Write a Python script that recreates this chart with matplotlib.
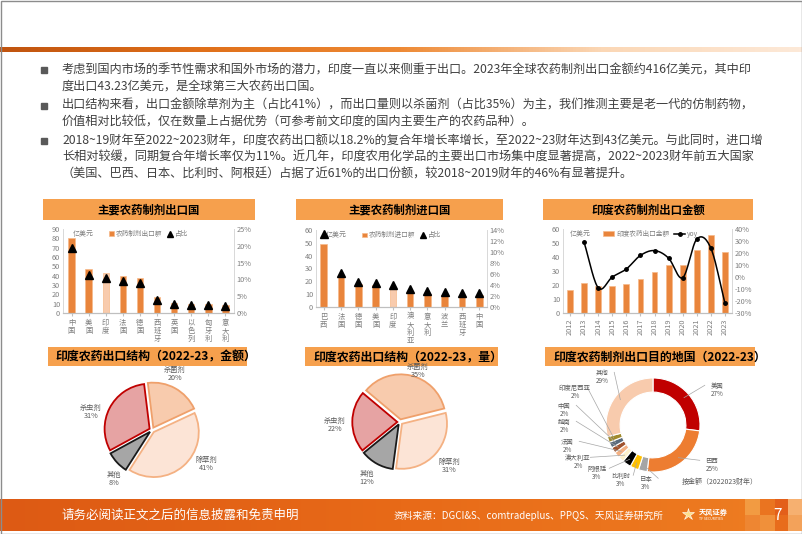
import numpy as np
import matplotlib.pyplot as plt
from matplotlib.patches import Rectangle, Patch
from matplotlib.lines import Line2D
from matplotlib.colors import LinearSegmentedColormap

plt.rcParams['font.family'] = ['Noto Sans CJK SC', 'DejaVu Sans']

W, H = 802, 534

# ---------------- data ----------------
exp_countries = ['中国', '美国', '印度', '法国', '德国', '西班牙', '英国', '以色列', '匈牙利', '意大利']
exp_value = [80.5, 47.5, 43.0, 39.5, 37.5, 17.2, 10.6, 9.4, 9.4, 8.2]
exp_share = [19.3, 11.4, 10.4, 9.4, 8.9, 4.0, 2.8, 2.5, 2.5, 2.2]

imp_countries = ['巴西', '法国', '德国', '美国', '印度', '澳大利亚', '意大利', '波兰', '西班牙', '中国']
imp_value = [49.0, 23.5, 18.3, 17.5, 14.9, 11.7, 10.4, 9.7, 9.1, 9.1]
imp_share = [13.2, 6.1, 4.5, 4.4, 4.0, 3.2, 2.9, 2.8, 2.6, 2.6]

years = ['2012', '2013', '2014', '2015', '2016', '2017', '2018', '2019', '2020', '2021', '2022', '2023']
india_exp = [16.3, 21.1, 19.3, 19.4, 20.4, 24.2, 29.5, 34.3, 34.3, 45.1, 55.4, 43.4]
india_yoy = [np.nan, 28.8, -9.0, 0.0, 6.7, 18.0, 22.0, 15.7, -0.6, 31.6, 24.0, -22.0]

pie_types = ['杀菌剂', '除草剂', '其他', '杀虫剂']
value_share = [20, 41, 8, 31]
volume_share = [35, 31, 12, 22]

dest_countries = ['美国', '巴西', '日本', '比利时', '阿根廷', '澳大利亚', '法国', '越南', '中国', '印度尼西亚', '其他']
dest_share = [27, 25, 3, 3, 3, 2, 2, 2, 2, 2, 29]

bullets = [
    ["考虑到国内市场的季节性需求和国外市场的潜力，印度一直以来侧重于出口。2023年全球农药制剂出口金额约416亿美元，其中印",
     "度出口43.23亿美元，是全球第三大农药出口国。"],
    ["出口结构来看，出口金额除草剂为主（占比41%），而出口量则以杀菌剂（占比35%）为主，我们推测主要是老一代的仿制药物，",
     "价值相对比较低，仅在数量上占据优势（可参考前文印度的国内主要生产的农药品种）。"],
    ["2018~19财年至2022~2023财年，印度农药出口额以18.2%的复合年增长率增长，至2022~23财年达到43亿美元。与此同时，进口增",
     "长相对较缓，同期复合年增长率仅为11%。近几年，印度农用化学品的主要出口市场集中度显著提高，2022~2023财年前五大国家",
     "（美国、巴西、日本、比利时、阿根廷）占据了近61%的出口份额，较2018~2019财年的46%有显著提升。"],
]

# ---------------- styles ----------------
BANNER = '#F6A04D'
BAR = '#E9853C'
BAR_EDGE = '#F6B98A'
LIGHT = '#F8CBAD'
TICK = '#7F7F7F'
TEXT = '#404040'


def frac(x0, y0, x1, y1):
    """pixel box (top-left origin) -> figure fraction rect"""
    return [x0 / W, 1 - y1 / H, (x1 - x0) / W, (y1 - y0) / H]


def smooth(xs, ys, n=16):
    """Catmull-Rom curve through the points (Excel-like smoothed line)"""
    P = np.column_stack([np.asarray(xs, float), np.asarray(ys, float)])
    P = np.vstack([2 * P[0] - P[1], P, 2 * P[-1] - P[-2]])
    t = np.linspace(0, 1, n, endpoint=False)[:, None]
    out = []
    for i in range(1, len(P) - 2):
        p0, p1, p2, p3 = P[i - 1], P[i], P[i + 1], P[i + 2]
        out.append(0.5 * (2 * p1 + (-p0 + p2) * t + (2 * p0 - 5 * p1 + 4 * p2 - p3) * t ** 2
                          + (-p0 + 3 * p1 - 3 * p2 + p3) * t ** 3))
    out.append(P[-2][None, :])
    return np.vstack(out)


fig = plt.figure(figsize=(W / 100, H / 100), dpi=100)

# background axis in pixel coordinates
bg = fig.add_axes([0, 0, 1, 1])
bg.set_xlim(0, W)
bg.set_ylim(H, 0)
bg.axis('off')

# top gradient rule
grad = np.linspace(0, 1, 256)[None, :]
top_cmap = LinearSegmentedColormap.from_list('top', ['#C0540F', '#E0701A', '#EE8A35', '#FBD7B5', '#FDE9D8'])
bg.imshow(grad, cmap=top_cmap, extent=(0, W, 52, 47), aspect='auto')

# slide border
bg.add_patch(Rectangle((0.5, 0.5), W - 1, H - 1, fill=False, ec='#8C8C8C', lw=1.0))

# bullets
y = 70
for para in bullets:
    bg.plot(44, y, marker='s', ms=5, color='#595959')
    for line in para:
        bg.text(62, y, line, fontsize=8.75, color=TEXT, va='center', ha='left')
        y += 16.5
    y += 2.5


def banner(x0, y0, x1, y1, text, center=True, size=8.2):
    bg.add_patch(Rectangle((x0, y0), x1 - x0, y1 - y0, color=BANNER, lw=0))
    if center:
        bg.text((x0 + x1) / 2, (y0 + y1) / 2 + 0.5, text, fontsize=size, fontweight='bold',
                ha='center', va='center', color='black')
    else:
        bg.text(x0 + 8, (y0 + y1) / 2 + 0.5, text, fontsize=size, fontweight='bold',
                ha='left', va='center', color='black')


banner(43, 199, 255, 220, '主要农药制剂出口国')
banner(296, 199, 503, 220, '主要农药制剂进口国')
banner(543, 199, 753, 220, '印度农药制剂出口金额')
banner(48, 347, 247, 366, '印度农药出口结构（2022-23，金额）', center=False, size=8.6)
banner(305, 347, 498, 366, '印度农药出口结构（2022-23，量）', center=False, size=8.6)
banner(545, 347, 755, 366, '印度农药制剂出口目的地国（2022-23）', center=False, size=8.6)


def style_axes(ax, ax2):
    for a in (ax, ax2):
        a.spines['top'].set_visible(False)
        a.spines['left'].set_color('#D9D9D9')
        a.spines['right'].set_color('#D9D9D9')
        a.spines['bottom'].set_color('#BFBFBF')
        a.spines['left'].set_linewidth(0.6)
        a.spines['right'].set_linewidth(0.6)
        a.tick_params(labelsize=5.3, colors=TICK, length=0, pad=2)
    ax.tick_params(axis='x', length=2, color='#BFBFBF')


def combo_chart(rect, cats, vals, shares, ymax, ystep, rmax, rstep, legend_name, xlim):
    ax = fig.add_axes(frac(*rect))
    ax.patch.set_alpha(0)
    x = np.arange(len(cats))
    colors = [LIGHT if c == '印度' else BAR for c in cats]
    ax.bar(x, vals, width=0.38, color=colors, edgecolor=BAR_EDGE, lw=0.5)
    ax.set_ylim(0, ymax)
    ax.set_yticks(np.arange(0, ymax + 0.1, ystep))
    ax.set_xlim(*xlim)
    ax.set_xticks(x)
    ax.set_xticklabels(['\n'.join(c) for c in cats], fontsize=5.3, linespacing=1.05)
    ax2 = ax.twinx()
    ax2.plot(x, shares, linestyle='none', marker='^', ms=5.5, color='black')
    ax2.set_ylim(0, rmax)
    ax2.set_yticks(np.arange(0, rmax + 0.1, rstep))
    ax2.set_yticklabels([f'{v:.0f}%' for v in np.arange(0, rmax + 0.1, rstep)])
    style_axes(ax, ax2)
    ax.text(0.06, 0.985, '亿美元', transform=ax.transAxes, fontsize=5, color=TICK, va='top')
    handles = [Patch(facecolor=BAR, edgecolor=BAR_EDGE, lw=0.5),
               Line2D([], [], linestyle='none', marker='^', ms=4, color='black')]
    ax2.legend(handles, [legend_name, '占比'], ncol=2, loc='upper center',
               bbox_to_anchor=(0.5, 1.06), frameon=False, fontsize=4.8, handlelength=0.8,
               handletextpad=0.3, columnspacing=0.8, labelcolor=TICK)
    return ax, ax2


combo_chart((63, 229, 234, 313), exp_countries, exp_value, exp_share, 90, 10, 25, 5,
            '农药制剂出口额', (-0.5, 9.5))
combo_chart((316, 230, 487, 307), imp_countries, imp_value, imp_share, 60, 10, 14, 2,
            '农药制剂进口额', (-0.45, 9.45))

# India export amount + yoy
ax = fig.add_axes(frac(563, 229, 732, 313))
ax.patch.set_alpha(0)
xi = np.arange(len(years))
ax.bar(xi, india_exp, width=0.42, color=BAR, edgecolor=BAR_EDGE, lw=0.5)
ax.set_ylim(0, 60)
ax.set_yticks(np.arange(0, 61, 10))
ax.set_xlim(-0.5, len(years) - 0.5)
ax.set_xticks(xi)
ax.set_xticklabels(years, rotation=90, fontsize=5)
ax2 = ax.twinx()
yoy = np.array(india_yoy)
ok = ~np.isnan(yoy)
curve = smooth(xi[ok], yoy[ok])
ax2.plot(curve[:, 0], curve[:, 1], color='black', lw=1.1)
ax2.plot(xi[ok], yoy[ok], linestyle='none', marker='o', ms=2.5, color='black')
ax2.set_ylim(-30, 40)
ax2.set_yticks(np.arange(-30, 41, 10))
ax2.set_yticklabels([f'{v}%' for v in range(-30, 41, 10)])
style_axes(ax, ax2)
ax.text(0.04, 0.985, '亿美元', transform=ax.transAxes, fontsize=5, color=TICK, va='top')
ax2.legend([Patch(facecolor=BAR, edgecolor=BAR_EDGE, lw=0.5),
            Line2D([], [], color='black', marker='o', ms=2.5, lw=1.1)],
           ['印度农药出口金额', 'yoy'], ncol=2, loc='upper center', bbox_to_anchor=(0.52, 1.06),
           frameon=False, fontsize=4.8, handlelength=1.6, handletextpad=0.3,
           columnspacing=0.8, labelcolor=TICK)

# ---------------- pies ----------------
pie_face = ['#F8CBAD', '#FCE4D6', '#A6A6A6', '#E6A3A3']
pie_edge = ['#EFA06B', '#F4B183', '#1A1A1A', '#C00000']


def pie_axes(cx, cy, s):
    a = fig.add_axes(frac(cx - s, cy - s, cx + s, cy + s))
    a.patch.set_alpha(0)
    return a


def draw_pie(cx, cy, shares, start, label_px):
    r, s = 45, 62
    a = pie_axes(cx, cy, s)
    wedges, _ = a.pie(shares, startangle=start, counterclock=False, colors=pie_face,
                      explode=[0.06] * len(shares), radius=1.0)
    for w, ec in zip(wedges, pie_edge):
        w.set_edgecolor(ec)
        w.set_linewidth(1.3)
    a.set_xlim(-s / r, s / r)
    a.set_ylim(-s / r, s / r)
    a.set_aspect('equal')
    for name, v, (lx, ly) in zip(pie_types, shares, label_px):
        a.text((lx - cx) / r, (cy - ly) / r, f'{name}\n{v}%', fontsize=5.2, color='#595959',
               ha='center', va='center', linespacing=1.1)


draw_pie(152, 430, value_share, 97, [(175, 374), (206, 464), (114, 479), (91, 412)])
draw_pie(400, 422, volume_share, 140, [(418, 371), (449, 466), (367, 478), (335, 425)])

# donut
dcx, dcy, dr, ds = 653, 425, 47, 58
dax = pie_axes(dcx, dcy, ds)
donut_colors = ['#C00000', '#ED7D31', '#A5A5A5', '#FFC000', '#000000', '#FFF2CC',
                '#F4B183', '#A0522D', '#596A7C', '#A08A2C', '#F8CBAD']
dw, _ = dax.pie(dest_share, startangle=90, counterclock=False, colors=donut_colors,
                wedgeprops=dict(width=0.3, edgecolor='white', linewidth=0.8))
dax.set_xlim(-ds / dr, ds / dr)
dax.set_ylim(-ds / dr, ds / dr)
dax.set_aspect('equal')
dest_label_px = [(717, 390), (712, 465), (646, 483), (621, 480), (597, 473), (578, 462),
                 (567, 446), (564, 426), (564, 410), (575, 392), (602, 377)]
for w, name, v, (lx, ly) in zip(dw, dest_countries, dest_share, dest_label_px):
    ang = np.deg2rad((w.theta1 + w.theta2) / 2)
    px, py = (lx - dcx) / dr, (dcy - ly) / dr
    side = 1 if px < 0 else -1
    ex, ey = px + side * 0.26, py + 0.1
    dax.plot([0.88 * np.cos(ang), ex], [0.88 * np.sin(ang), ey], color='#A6A6A6', lw=0.5,
             clip_on=False)
    dax.text(px, py, f'{name}\n{v}%', fontsize=4.6, color='#595959', ha='center', va='center',
             linespacing=1.0, clip_on=False)
bg.text(720, 482, '按金额（2022023财年）', fontsize=5, color='#595959', ha='center', va='center')

# ---------------- footer ----------------
foot_cmap = LinearSegmentedColormap.from_list('foot', ['#DD5A14', '#E86A18', '#EE7E22'])
bg.imshow(grad, cmap=foot_cmap, extent=(0, W, 531, 499), aspect='auto')
for (sx, sy, c) in [(745, 499, '#F29B42'), (760, 499, '#EA7420'), (775, 499, '#E35F1A'),
                    (745, 515, '#EE8632'), (760, 515, '#F0903A'), (775, 515, '#E86C1C'),
                    (788, 499, '#F6B070'), (788, 515, '#F3A25A')]:
    bg.add_patch(Rectangle((sx, sy), 15, 16, color=c, lw=0))
bg.text(62, 515, '请务必阅读正文之后的信息披露和免责申明', fontsize=9, color='white',
        ha='left', va='center')
bg.text(394, 516, '资料来源：DGCI&S、comtradeplus、PPQS、天风证券研究所', fontsize=7,
        color='white', ha='left', va='center')
bg.plot([688], [514], marker='*', ms=9, color='#FFE08A', mec='white', mew=0.4)
bg.text(699, 512, '天风证券', fontsize=5.2, color='white', ha='left', va='center', fontweight='bold')
bg.text(699, 519, 'TF SECURITIES', fontsize=2.5, color='white', ha='left', va='center')
bg.text(777, 515, '7', fontsize=11, color='white', ha='center', va='center')

fig.savefig('out.png', dpi=100)
